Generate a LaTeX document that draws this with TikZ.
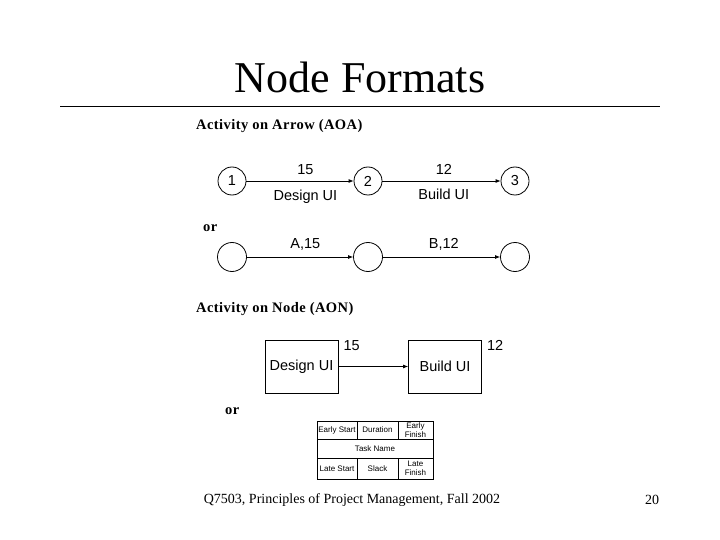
\documentclass[tikz,border=0pt]{standalone}
\usepackage{fontspec}
\setmainfont{Liberation Serif}
\setsansfont{Liberation Sans}
\usetikzlibrary{arrows.meta,positioning}

\tikzset{
  evnode/.style={circle, draw, line width=0.8pt, minimum size=28pt, inner sep=0pt, font=\sffamily\fontsize{14.5}{16}\selectfont},
  actbox/.style={draw, line width=0.8pt, minimum width=73pt, minimum height=53pt, inner sep=0pt, font=\sffamily\fontsize{14.5}{16}\selectfont},
  lbl/.style={font=\sffamily\fontsize{14.5}{16}\selectfont, inner sep=0pt},
  heading/.style={font=\bfseries\fontsize{14.5}{16}\selectfont\addfontfeatures{LetterSpace=3}, anchor=west, inner sep=0pt},
  tabcell/.style={draw, line width=0.6pt, inner sep=0pt, align=center, font=\sffamily\fontsize{8}{8.5}\selectfont},
  act/.style={-{Latex[length=5pt,width=4pt]}, line width=0.8pt}
}

\begin{document}
\begin{tikzpicture}[x=1pt, y=-1pt]
\useasboundingbox (0,0) rectangle (720,540);
% Title and rule
\node[font=\fontsize{44}{48}\selectfont, anchor=base, inner sep=0pt] (title) at (360,93) {Node Formats};
\draw[line width=1pt] (60,107) -- (660,107);
% Activity on Arrow
\node[heading] (aoa) at (196,126) {Activity on Arrow (AOA)};
\foreach \n/\x in {1/232, 2/368, 3/515} {
  \node[evnode] (e\n) at (\x,181) {\n};
  \node[evnode, minimum size=29pt] (f\n) at (\x,257) {};
}
\draw[act] (e1) -- (e2) node[lbl, pos=0.55, above=6pt] (l15) {15} node[lbl, pos=0.55, below=9pt] (ldes) {Design UI};
\draw[act] (e2) -- (e3) node[lbl, pos=0.52, above=6pt] (l12) {12} node[lbl, pos=0.52, below=8pt] (lbld) {Build UI};
\node[heading] (or1) at (203,228) {or};
\draw[act] (f1) -- (f2) node[lbl, pos=0.55, above=6pt] (la) {A,15};
\draw[act] (f2) -- (f3) node[lbl, pos=0.52, above=6pt] (lb) {B,12};
% Activity on Node
\node[heading] (aon) at (196,309) {Activity on Node (AON)};
\node[actbox] (design) at (301.5,366.5) {Design UI};
\node[actbox] (build) at (445,366.5) {Build UI};
\node[lbl, anchor=north west] (d15) at ([xshift=5pt, yshift=-1pt]design.north east) {15};
\node[lbl, anchor=north west] (b12) at ([xshift=5pt, yshift=-1pt]build.north east) {12};
\draw[act] (design) -- (build);
\node[heading] (or2) at (225,411) {or};
% Node legend table
\node[tabcell, minimum width=40pt, minimum height=18pt] (es) at (337,430) {Early Start};
\node[tabcell, minimum width=41pt, minimum height=18pt] (du) at (377.5,430) {Duration};
\node[tabcell, minimum width=35pt, minimum height=18pt] (ef) at (415.5,430) {Early\\Finish};
\node[tabcell, minimum width=116pt, minimum height=19pt] (tn) at (375,448.5) {Task Name};
\node[tabcell, minimum width=40pt, minimum height=21pt] (ls) at (337,468.5) {Late Start};
\node[tabcell, minimum width=41pt, minimum height=21pt] (sl) at (377.5,468.5) {Slack};
\node[tabcell, minimum width=35pt, minimum height=21pt] (lf) at (415.5,468.5) {Late\\Finish};
% Footer
\node[font=\fontsize{14}{16}\selectfont, inner sep=0pt] (foot) at (352,500) {Q7503, Principles of Project Management, Fall 2002};
\node[font=\fontsize{14}{16}\selectfont, inner sep=0pt] (page) at (652,500) {20};
\end{tikzpicture}
\end{document}
